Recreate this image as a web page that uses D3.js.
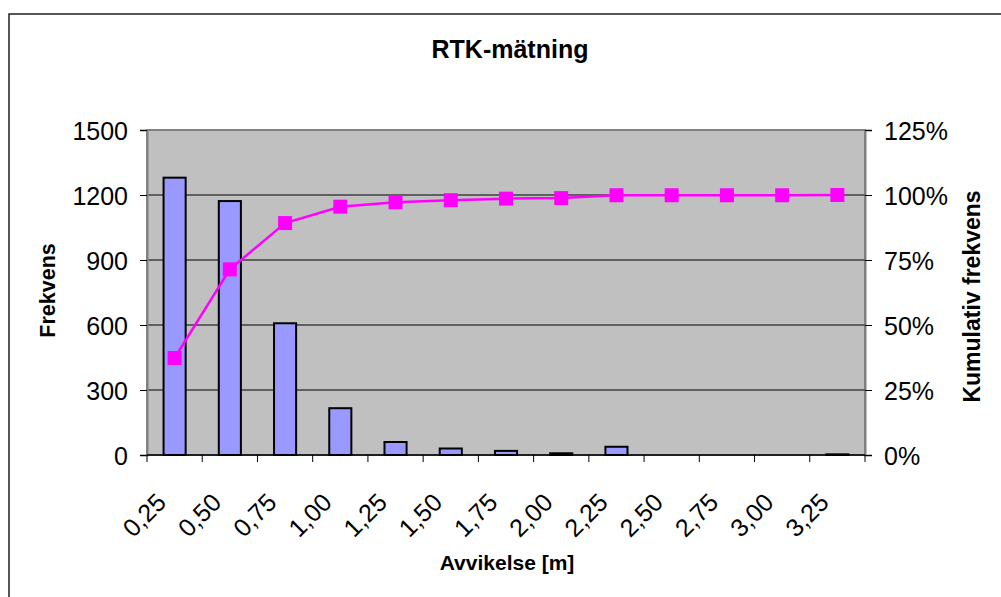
<!DOCTYPE html>
<html>
<head>
<meta charset="utf-8">
<script src="https://cdn.jsdelivr.net/npm/d3@7"></script>
<style>
  html, body { margin: 0; padding: 0; background: #fff; }
  svg { display: block; font-family: "Liberation Sans", Arial, sans-serif; }
</style>
</head>
<body>
<svg id="chart" width="1001" height="597"></svg>
<script>
const categories = ["0,25","0,50","0,75","1,00","1,25","1,50","1,75","2,00","2,25","2,50","2,75","3,00","3,25"];
const frequency = [1280, 1172, 608, 216, 60, 30, 19, 8, 38, 0, 0, 0, 3];
const cumulative = [37.3, 71.4, 89.2, 95.5, 97.2, 98.0, 98.6, 98.8, 99.9, 99.9, 99.9, 99.9, 100.0];
const leftTicks = [0, 300, 600, 900, 1200, 1500];
const rightTicks = [0, 25, 50, 75, 100, 125];

const svg = d3.select("#chart");
const L = 147, R = 865, T = 130, B = 455;

// outer border
svg.append("rect").attr("x", 9).attr("y", 14).attr("width", 1200).attr("height", 800)
  .attr("fill", "#fff").attr("stroke", "#222").attr("stroke-width", 1.5);

const x = d3.scaleBand().domain(categories).range([L, R]).paddingInner(0).paddingOuter(0);
const yL = d3.scaleLinear().domain([0, 1500]).range([B, T]);
const yR = d3.scaleLinear().domain([0, 125]).range([B, T]);

// plot area
svg.append("rect").attr("x", L).attr("y", T).attr("width", R - L).attr("height", B - T)
  .attr("fill", "#C0C0C0").attr("stroke", "#808080").attr("stroke-width", 2);

// gridlines
svg.append("g").selectAll("line").data(leftTicks.filter(d => d > 0 && d < 1500)).join("line")
  .attr("x1", L).attr("x2", R).attr("y1", d => yL(d)).attr("y2", d => yL(d))
  .attr("stroke", "#000").attr("stroke-width", 1);

// left axis
const gL = svg.append("g").attr("transform", `translate(${L},0)`)
  .call(d3.axisLeft(yL).tickValues(leftTicks).tickSize(7).tickPadding(12).tickFormat(d3.format("d")));
gL.select(".domain").attr("stroke", "#808080").attr("stroke-width", 2);
gL.selectAll(".tick line").attr("stroke", "#000");
gL.selectAll(".tick text").attr("font-size", 25).attr("fill", "#000")
  .attr("font-family", "Liberation Sans, Arial, sans-serif").attr("dy", "0.36em");

// right axis
const gR = svg.append("g").attr("transform", `translate(${R},0)`)
  .call(d3.axisRight(yR).tickValues(rightTicks).tickSize(7).tickPadding(12).tickFormat(d => d + "%"));
gR.select(".domain").attr("stroke", "#808080").attr("stroke-width", 2);
gR.selectAll(".tick line").attr("stroke", "#000");
gR.selectAll(".tick text").attr("font-size", 25).attr("fill", "#000")
  .attr("font-family", "Liberation Sans, Arial, sans-serif").attr("dy", "0.36em");

// bars
svg.append("g").selectAll("rect").data(frequency).join("rect")
  .attr("x", (d, i) => x(categories[i]) + x.bandwidth() * 0.3)
  .attr("width", x.bandwidth() * 0.4)
  .attr("y", d => yL(d))
  .attr("height", d => B - yL(d))
  .attr("fill", "#9999FF").attr("stroke", "#000").attr("stroke-width", 2);

// bottom axis line and ticks (at category boundaries)
const boundaries = d3.range(categories.length + 1);
const step = x.step();
svg.append("line").attr("x1", L).attr("x2", R).attr("y1", B).attr("y2", B)
  .attr("stroke", "#000").attr("stroke-width", 1.5);
svg.append("g").selectAll("line").data(boundaries).join("line")
  .attr("x1", i => L + i * step).attr("x2", i => L + i * step)
  .attr("y1", B).attr("y2", B + 7).attr("stroke", "#000").attr("stroke-width", 1);

// x labels rotated
svg.append("g").selectAll("text").data(categories).join("text")
  .attr("transform", d => `translate(${x(d) + x.bandwidth() / 2 - 7},504) rotate(-45)`)
  .attr("text-anchor", "end").attr("font-size", 25).attr("fill", "#000")
  .text(d => d);

// cumulative line
const line = d3.line().x((d, i) => x(categories[i]) + x.bandwidth() / 2).y(d => yR(d));
svg.append("path").datum(cumulative).attr("d", line)
  .attr("fill", "none").attr("stroke", "#FF00FF").attr("stroke-width", 2.5);
const ms = 14;
svg.append("g").selectAll("rect").data(cumulative).join("rect")
  .attr("x", (d, i) => x(categories[i]) + x.bandwidth() / 2 - ms / 2)
  .attr("y", d => yR(d) - ms / 2)
  .attr("width", ms).attr("height", ms).attr("fill", "#FF00FF");

// titles
svg.append("text").attr("x", 510).attr("y", 58).attr("text-anchor", "middle")
  .attr("font-size", 25).attr("font-weight", "bold").text("RTK-mätning");
svg.append("text").attr("x", 507).attr("y", 570).attr("text-anchor", "middle")
  .attr("font-size", 21).attr("font-weight", "bold").text("Avvikelse [m]");
svg.append("text").attr("transform", "translate(55,290.5) rotate(-90)").attr("text-anchor", "middle")
  .attr("font-size", 21.5).attr("font-weight", "bold").text("Frekvens");
svg.append("text").attr("transform", "translate(980,296.5) rotate(-90)").attr("text-anchor", "middle")
  .attr("font-size", 23).attr("font-weight", "bold").text("Kumulativ frekvens");
</script>
</body>
</html>
